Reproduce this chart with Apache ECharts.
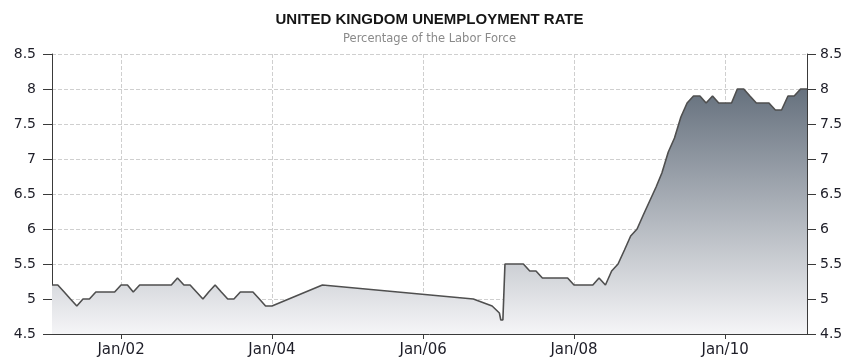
<!DOCTYPE html>
<html>
<head>
<meta charset="utf-8">
<script src="https://cdn.jsdelivr.net/npm/echarts@6/dist/echarts.min.js"></script>
<style>
  html, body { margin: 0; padding: 0; background: #ffffff; }
  #chart { width: 846px; height: 361px; }
</style>
</head>
<body>
<div id="chart"></div>
<script>
// UK unemployment rate, % of labour force
const chartTitle = 'UNITED KINGDOM UNEMPLOYMENT RATE';
const chartSubtitle = 'Percentage of the Labor Force';

// Monthly readings, Feb 2001 – Jan 2004
const earlyDates = [
  '2001-02-01','2001-03-01','2001-04-01','2001-05-01','2001-06-01','2001-07-01',
  '2001-08-01','2001-09-01','2001-10-01','2001-11-01','2001-12-01',
  '2002-01-01','2002-02-01','2002-03-01','2002-04-01','2002-05-01','2002-06-01',
  '2002-07-01','2002-08-01','2002-09-01','2002-10-01','2002-11-01','2002-12-01',
  '2003-01-01','2003-02-01','2003-03-01','2003-04-01','2003-05-01','2003-06-01',
  '2003-07-01','2003-08-01','2003-09-01','2003-10-01','2003-11-01','2003-12-01',
  '2004-01-01'
];
const earlyValues = [
  5.2, 5.2, 5.1, 5.0, 4.9, 5.0,
  5.0, 5.1, 5.1, 5.1, 5.1,
  5.2, 5.2, 5.1, 5.2, 5.2, 5.2,
  5.2, 5.2, 5.2, 5.3, 5.2, 5.2,
  5.1, 5.0, 5.1, 5.2, 5.1, 5.0,
  5.0, 5.1, 5.1, 5.1, 5.0, 4.9,
  4.9
];

// Sparse readings, Sep 2004 – Jan 2007
const sparseDates = ['2004-09-01','2006-09-01','2006-12-01','2007-01-05','2007-01-12','2007-01-22'];
const sparseValues = [5.2, 5.0, 4.9, 4.8, 4.7, 4.7];

// Monthly readings, Feb 2007 – Feb 2011
const lateDates = [
  '2007-02-01','2007-03-01','2007-04-01','2007-05-01','2007-06-01','2007-07-01',
  '2007-08-01','2007-09-01','2007-10-01','2007-11-01','2007-12-01',
  '2008-01-01','2008-02-01','2008-03-01','2008-04-01','2008-05-01','2008-06-01',
  '2008-07-01','2008-08-01','2008-09-01','2008-10-01','2008-11-01','2008-12-01',
  '2009-01-01','2009-02-01','2009-03-01','2009-04-01','2009-05-01','2009-06-01',
  '2009-07-01','2009-08-01','2009-09-01','2009-10-01','2009-11-01','2009-12-01',
  '2010-01-01','2010-02-01','2010-03-01','2010-04-01','2010-05-01','2010-06-01',
  '2010-07-01','2010-08-01','2010-09-01','2010-10-01','2010-11-01','2010-12-01',
  '2011-01-01','2011-02-01'
];
const lateValues = [
  5.5, 5.5, 5.5, 5.5, 5.4, 5.4,
  5.3, 5.3, 5.3, 5.3, 5.3,
  5.2, 5.2, 5.2, 5.2, 5.3, 5.2,
  5.4, 5.5, 5.7, 5.9, 6.0, 6.2,
  6.4, 6.6, 6.8, 7.1, 7.3, 7.6,
  7.8, 7.9, 7.9, 7.8, 7.9, 7.8,
  7.8, 7.8, 8.0, 8.0, 7.9, 7.8,
  7.8, 7.8, 7.7, 7.7, 7.9, 7.9,
  8.0, 8.0
];

// Axis range and tick marks
const xStart = '2001-02-01';
const xEnd = '2011-02-01';
const xTickDates = ['2002-01-01','2004-01-01','2006-01-01','2008-01-01','2010-01-01'];
const yMin = 4.5;
const yMax = 8.5;
const yStep = 0.5;

const ts = s => echarts.time.parse(s).getTime();

const allDates = earlyDates.concat(sparseDates, lateDates);
const allValues = earlyValues.concat(sparseValues, lateValues);
const seriesData = allDates.map((d, i) => [ts(d), allValues[i]]);

const axisColor = '#3a3a3a';
const labelColor = '#1e1e28';
const gridColor = '#cfcfcf';
const labelFont = 'DejaVu Sans';

const chart = echarts.init(document.getElementById('chart'), null, { renderer: 'canvas' });

const yAxisBase = {
  type: 'value',
  min: yMin,
  max: yMax,
  interval: yStep,
  axisLine: { show: true, lineStyle: { color: axisColor, width: 1 } },
  axisTick: { show: true, inside: false, length: 9, lineStyle: { color: axisColor } },
  axisLabel: { color: labelColor, fontFamily: labelFont, fontSize: 14 }
};

chart.setOption({
  animation: false,
  backgroundColor: '#ffffff',
  grid: { left: 52, right: 39, top: 54, bottom: 27, containLabel: false },
  graphic: [
    {
      type: 'text', x: 429.5, y: 19.5,
      style: {
        text: chartTitle, textAlign: 'center', textVerticalAlign: 'middle',
        font: 'bold 15px "Liberation Sans", Arial, sans-serif', fill: '#151515'
      }
    },
    {
      type: 'text', x: 429.5, y: 39,
      style: {
        text: chartSubtitle, textAlign: 'center', textVerticalAlign: 'middle',
        font: '11.5px "DejaVu Sans", sans-serif', fill: '#8a8a8a'
      }
    }
  ],
  xAxis: {
    // dates carried as timestamps on a linear scale
    type: 'value',
    min: ts(xStart),
    max: ts(xEnd),
    axisLine: { show: true, onZero: false, lineStyle: { color: axisColor, width: 1 } },
    axisTick: {
      show: true, length: 5, lineStyle: { color: axisColor },
      customValues: xTickDates.map(ts)
    },
    axisLabel: {
      color: labelColor, fontFamily: labelFont, fontSize: 15, margin: 9,
      customValues: xTickDates.map(ts),
      formatter: v => {
        const d = new Date(v);
        return 'Jan/' + String(d.getFullYear()).slice(2);
      }
    },
    splitLine: { show: true, lineStyle: { color: gridColor, type: 'dashed', width: 1 } }
  },
  yAxis: [
    Object.assign({}, yAxisBase, {
      position: 'left',
      splitLine: { show: true, lineStyle: { color: gridColor, type: 'dashed', width: 1 } },
      axisLabel: Object.assign({}, yAxisBase.axisLabel, { margin: 16 })
    }),
    Object.assign({}, yAxisBase, {
      position: 'right',
      splitLine: { show: false },
      axisLabel: Object.assign({}, yAxisBase.axisLabel, { margin: 13 })
    })
  ],
  series: [
    {
      type: 'line',
      yAxisIndex: 0,
      data: seriesData,
      showSymbol: false,
      symbol: 'none',
      lineStyle: { color: '#4f4f4f', width: 1.6 },
      areaStyle: {
        origin: 'start',
        opacity: 1,
        color: new echarts.graphic.LinearGradient(0, 0, 0, 1, [
          { offset: 0, color: '#66717e' },
          { offset: 1, color: '#f5f5f7' }
        ])
      }
    },
    {
      // mirrors the scale onto the right-hand axis
      type: 'line', yAxisIndex: 1, data: [], silent: true
    }
  ]
});
</script>
</body>
</html>
